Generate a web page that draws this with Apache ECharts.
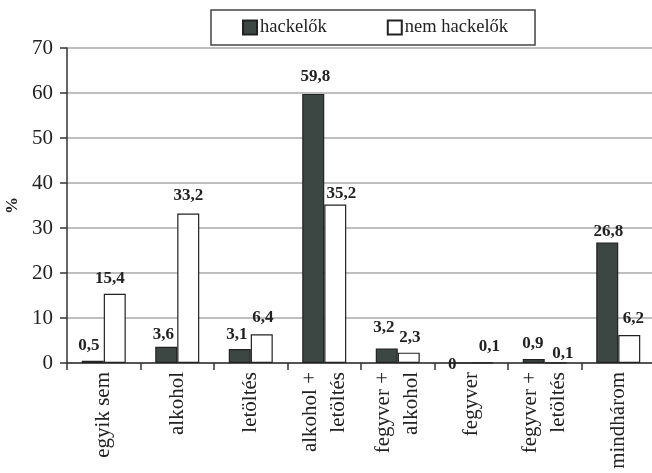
<!DOCTYPE html>
<html>
<head>
<meta charset="utf-8">
<script src="https://cdn.jsdelivr.net/npm/echarts@6/dist/echarts.min.js"></script>
<style>
  html, body { margin: 0; padding: 0; background: #fff; }
  #chart { width: 652px; height: 473px; }
</style>
</head>
<body>
<div id="chart"></div>
<script>
// Categories (combinations of behaviours)
const categories = [
  'egyik sem',
  'alkohol',
  'letöltés',
  'alkohol +\nletöltés',
  'fegyver +\nalkohol',
  'fegyver',
  'fegyver +\nletöltés',
  'mindhárom'
];

// Share of respondents, %
const hackers = [0.5, 3.6, 3.1, 59.8, 3.2, 0, 0.9, 26.8];
const nonHackers = [15.4, 33.2, 6.4, 35.2, 2.3, 0.1, 0.1, 6.2];

const seriesNames = ['hackelők', 'nem hackelők'];
const yTicks = { min: 0, max: 70, step: 10 };

// Small nudges for individual value labels [dx, dy]
const hackerLabelNudge = [[-4, 0], [-3, 3], [-3, 1], [2, -2], [-3, -5], [-8, 18], [-1, 0], [1, 5]];
const nonHackerLabelNudge = [[-5, 0], [0, -2], [1, -1], [6, 5], [1, 0], [7, 0], [7, 7], [4, -1]];

const serif = '"Liberation Serif", "Times New Roman", serif';
const fmt = v => String(v).replace('.', ',');

function buildData(values, nudges) {
  return values.map((v, i) => ({
    value: v,
    label: { offset: nudges[i] }
  }));
}

const chart = echarts.init(document.getElementById('chart'), null, { renderer: 'canvas' });

const labelStyle = {
  show: true,
  position: 'top',
  distance: 7,
  fontFamily: serif,
  fontWeight: 'bold',
  fontSize: 17,
  color: '#222',
  formatter: p => fmt(p.value)
};

chart.setOption({
  animation: false,
  backgroundColor: '#fff',
  legend: {
    left: 211,
    top: 10,
    padding: [8, 27, 8, 31],
    itemGap: 60,
    itemWidth: 14,
    itemHeight: 14,
    icon: 'rect',
    borderColor: '#444',
    borderWidth: 1.5,
    textStyle: { fontFamily: serif, fontSize: 18.5, color: '#222', padding: [0, 0, 0, -2] },
    data: seriesNames
  },
  grid: {
    left: 67,
    right: -3,
    top: 48,
    bottom: 110,
    containLabel: false,
    outerBoundsMode: 'none'
  },
  xAxis: {
    type: 'category',
    data: categories,
    axisLine: { show: true, lineStyle: { color: '#333', width: 1.5 } },
    axisTick: { show: true, length: 7, lineStyle: { color: '#333', width: 1.5 } },
    axisLabel: {
      rotate: 90,
      margin: 9,
      interval: 0,
      fontFamily: serif,
      fontSize: 21,
      lineHeight: 28,
      color: '#222'
    }
  },
  yAxis: {
    type: 'value',
    min: yTicks.min,
    max: yTicks.max,
    interval: yTicks.step,
    name: '%',
    nameLocation: 'middle',
    nameGap: 45,
    nameRotate: 90,
    nameTextStyle: { fontFamily: serif, fontWeight: 'bold', fontSize: 17, color: '#222' },
    axisLine: { show: true, lineStyle: { color: '#333', width: 1.5 } },
    axisTick: { show: true, length: 7, lineStyle: { color: '#333', width: 1.5 } },
    axisLabel: { margin: 14, fontFamily: serif, fontSize: 21, color: '#222' },
    splitLine: { show: true, lineStyle: { color: '#bfbfbf', width: 2 } }
  },
  series: [
    {
      name: seriesNames[0],
      type: 'bar',
      barWidth: 22,
      barGap: '0%',
      data: buildData(hackers, hackerLabelNudge),
      itemStyle: { color: '#3c4643', borderColor: '#222', borderWidth: 1.2 },
      label: labelStyle
    },
    {
      name: seriesNames[1],
      type: 'bar',
      barWidth: 22,
      barGap: '0%',
      data: buildData(nonHackers, nonHackerLabelNudge),
      itemStyle: { color: '#ffffff', borderColor: '#222', borderWidth: 1.2 },
      label: labelStyle
    }
  ]
});
</script>
</body>
</html>
